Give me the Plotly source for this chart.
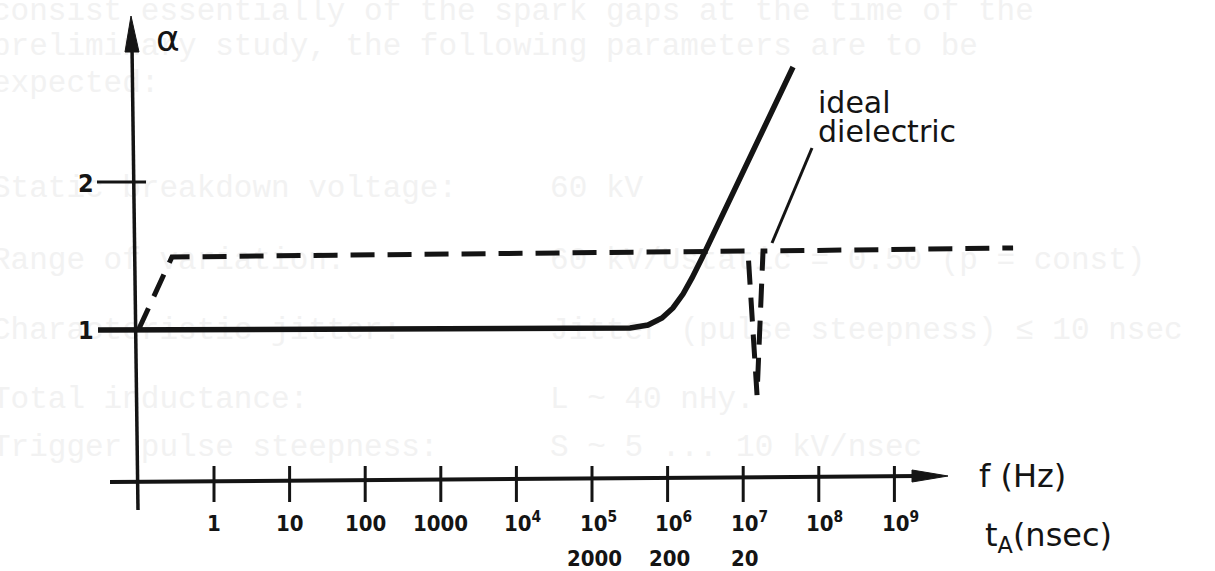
import plotly.graph_objects as go

# ---------------- data (x in decades of f: 0 -> 1 Hz, y = alpha) ----------------
f_tick_pos = [0, 1, 2, 3, 4, 5, 6, 7, 8, 9]
f_tick_labels = ["1", "10", "100", "1000", "10<sup>4</sup>", "10<sup>5</sup>",
                 "10<sup>6</sup>", "10<sup>7</sup>", "10<sup>8</sup>", "10<sup>9</sup>"]
tA_pos = [5, 6, 7]
tA_labels = ["2000", "200", "20"]
alpha_tick_pos = [1, 2]
alpha_tick_labels = ["1", "2"]

solid_x = [-1.534, 2.46, 5.503, 5.741, 5.926, 6.071, 6.204, 6.323, 6.455, 7.659]
solid_y = [1.0, 1.007, 1.014, 1.034, 1.082, 1.150, 1.245, 1.354, 1.490, 2.789]

ideal_x = [-1.0, -0.556, 7.024, 7.063, 7.183, 7.262, 10.57]
ideal_y = [1.0, 1.497, 1.537, 1.537, 0.558, 1.537, 1.558]

pointer_x = [7.381, 7.910]
pointer_y = [1.592, 2.238]

ghost_lines = [
    "consist essentially of the spark gaps at the time of the",
    "preliminary study, the following parameters are to be",
    "expected:",
    "Static breakdown voltage:     60 kV",
    "Range of variation:           60 kV/Ustatic = 0.50 (p = const)",
    "Characteristic jitter:        Jitter (pulse steepness) \u2264 10 nsec",
    "Total inductance:             L ~ 40 nHy.",
    "Trigger pulse steepness:      S ~ 5 ... 10 kV/nsec",
]

# ---------------- geometry / style ----------------
W, H = 1215, 571
X0PX, DEC = 214.0, 75.6      # px of 1 Hz, px per decade
Y1PX, UNIT = 330.0, 147.0    # px of alpha=1, px per alpha unit


def dx(px):
    return (px - X0PX) / DEC


def dy(py):
    return 1 + (Y1PX - py) / UNIT


INK = "#141414"
LBL_FONT = "DejaVu Sans Condensed, Liberation Sans Narrow, sans-serif"
BIG_FONT = "DejaVu Sans, Liberation Sans, sans-serif"

fig = go.Figure()

# ghost (show-through) typewriter text, drawn first so it lies beneath everything
ghost_py = [12, 47, 84, 189, 261, 331, 400, 448]
fig.add_trace(go.Scatter(
    x=[dx(-8)] * len(ghost_lines), y=[dy(p) for p in ghost_py],
    text=[t.replace(" ", "\u00a0") for t in ghost_lines],
    mode="text", textposition="middle right", hoverinfo="skip",
    textfont=dict(family="Liberation Mono, DejaVu Sans Mono, monospace",
                  size=31, color="#f2f2f2")))

# x axis line (slightly tilted as drawn)
fig.add_trace(go.Scatter(x=[dx(110), dx(918)], y=[dy(482), dy(476)], mode="lines",
                         line=dict(color=INK, width=4), hoverinfo="skip"))
# x arrow head
fig.add_trace(go.Scatter(x=[dx(912), dx(948), dx(912), dx(912)],
                         y=[dy(470), dy(476), dy(482), dy(470)],
                         mode="lines", fill="toself", fillcolor=INK,
                         line=dict(color=INK, width=1), hoverinfo="skip"))
# y axis line
fig.add_trace(go.Scatter(x=[dx(138), dx(132)], y=[dy(510), dy(46)], mode="lines",
                         line=dict(color=INK, width=3.5), hoverinfo="skip"))
fig.add_trace(go.Scatter(x=[dx(125), dx(131), dx(139), dx(125)],
                         y=[dy(52), dy(16), dy(52), dy(52)],
                         mode="lines", fill="toself", fillcolor=INK,
                         line=dict(color=INK, width=1), hoverinfo="skip"))

# x ticks
tx, ty = [], []
for p in f_tick_pos:
    tx += [p, p, None]
    ty += [dy(466), dy(502), None]
fig.add_trace(go.Scatter(x=tx, y=ty, mode="lines",
                         line=dict(color=INK, width=3), hoverinfo="skip"))
# y tick at 2
fig.add_trace(go.Scatter(x=[dx(97), dx(146)], y=[2.007, 2.007], mode="lines",
                         line=dict(color=INK, width=3), hoverinfo="skip"))

# curves
fig.add_trace(go.Scatter(x=solid_x, y=solid_y, mode="lines",
                         line=dict(color=INK, width=5.5),
                         hoverinfo="skip"))
fig.add_trace(go.Scatter(x=ideal_x, y=ideal_y, mode="lines",
                         line=dict(color=INK, width=5, dash="24px,13px"),
                         hoverinfo="skip"))
fig.add_trace(go.Scatter(x=pointer_x, y=pointer_y, mode="lines",
                         line=dict(color=INK, width=3), hoverinfo="skip"))

# tick labels
for p, lab in zip(f_tick_pos, f_tick_labels):
    fig.add_annotation(x=p, y=dy(538), text=lab, showarrow=False,
                       xanchor="center", yanchor="bottom",
                       xshift=6 if "sup" in lab else 0,
                       font=dict(family=LBL_FONT, size=22, color=INK, weight="bold"))
for p, lab in zip(tA_pos, tA_labels):
    fig.add_annotation(x=p, y=dy(558), text=lab, showarrow=False,
                       xanchor="center", yanchor="middle", xshift=2,
                       font=dict(family=LBL_FONT, size=22, color=INK, weight="bold"))
for p, lab in zip(alpha_tick_pos, alpha_tick_labels):
    fig.add_annotation(x=dx(86), y=p, text=lab, showarrow=False,
                       xanchor="center", yanchor="middle",
                       font=dict(family=LBL_FONT, size=25, color=INK, weight="bold"))

# axis titles / labels
fig.add_annotation(x=dx(168), y=dy(38), text="\u03b1", showarrow=False,
                   xanchor="center", yanchor="middle",
                   font=dict(family=BIG_FONT, size=36, color=INK))
fig.add_annotation(x=dx(977), y=dy(476), text="f (Hz)", showarrow=False,
                   xanchor="left", yanchor="middle",
                   font=dict(family=BIG_FONT, size=32, color=INK))
fig.add_annotation(x=dx(983), y=dy(537), text="t<sub>A</sub>(nsec)", showarrow=False,
                   xanchor="left", yanchor="middle",
                   font=dict(family=BIG_FONT, size=32, color=INK))
fig.add_annotation(x=dx(816), y=dy(102), text="ideal", showarrow=False,
                   xanchor="left", yanchor="middle",
                   font=dict(family=BIG_FONT, size=30, color=INK))
fig.add_annotation(x=dx(816), y=dy(131), text="dielectric", showarrow=False,
                   xanchor="left", yanchor="middle",
                   font=dict(family=BIG_FONT, size=30, color=INK))

fig.update_layout(
    width=W, height=H, margin=dict(l=0, r=0, t=0, b=0),
    paper_bgcolor="white", plot_bgcolor="white", showlegend=False,
    xaxis=dict(range=[dx(0), dx(W)], visible=False, fixedrange=True),
    yaxis=dict(range=[dy(H), dy(0)], visible=False, fixedrange=True),
)

fig.write_html("out.html")
